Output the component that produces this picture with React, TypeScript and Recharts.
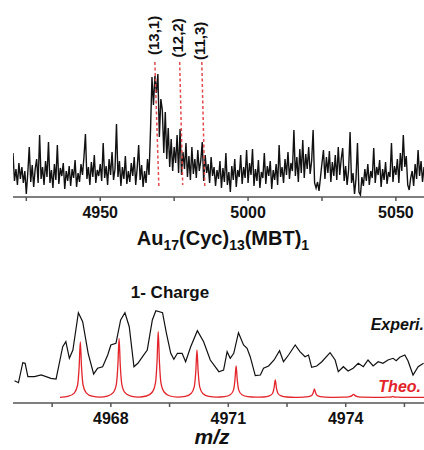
import { LineChart, Line, XAxis, YAxis, ReferenceLine, ReferenceDot } from 'recharts';

// full-range spectrum, intensity sampled every 0.5 m/z from 4920
const topStart = 4920;
const topStep = 0.5;
const topIntensity = [
    20, 44, 16, 28, 12, 34, 18, 30, 14, 26, 3, 24, 50, 15, 32, 10, 28, 38, 14, 62,
    18, 30, 12, 36, 20, 55, 14, 27, 9, 33, 17, 52, 13, 29, 21, 34, 8, 26, 16, 31,
    11, 28, 19, 37, 10, 24, 15, 33, 22, 40, 63, 18, 30, 12, 35, 20, 42, 14, 27, 21,
    33, 16, 54, 19, 31, 12, 38, 22, 45, 17, 28, 73, 20, 36, 11, 30, 18, 41, 13, 26,
    15, 34, 21, 40, 12, 29, 52, 17, 32, 10, 26, 14, 38, 22, 66, 120, 92, 121, 104, 123,
    60, 98, 87, 44, 85, 38, 69, 30, 58, 26, 50, 34, 62, 24, 68, 22, 45, 28, 54, 20,
    41, 17, 50, 23, 38, 19, 47, 26, 36, 55, 16, 42, 24, 33, 14, 40, 21, 30, 11, 27,
    18, 36, 9, 29, 15, 44, 12, 25, 5, 31, 17, 38, 10, 27, 20, 42, 13, 30, 19, 47,
    14, 34, 22, 48, 11, 28, 16, 37, 9, 25, 19, 44, 13, 31, 21, 36, 8, 27, 17, 33,
    12, 52, 20, 30, 14, 38, 22, 45, 18, 34, 26, 67, 21, 40, 15, 48, 24, 57, 19, 43,
    28, 50, 23, 36, 67, 14, 9, 15, 6, 20, 34, 47, 18, 40, 24, 46, 15, 35, 21, 42,
    17, 50, 22, 38, 49, 16, 31, 12, 27, 65, 14, 24, 3, 18, 54, 5, 2, 20, 11, 28,
    16, 33, 12, 26, 19, 49, 14, 30, 22, 37, 10, 28, 17, 35, 13, 25, 20, 54, 15, 31,
    22, 38, 14, 44, 26, 62, 30, 41, 12, 7, 19, 26, 11, 33, 18, 47, 21, 36, 15, 30, 24,
];

const assignMz = [4968.47, 4976.87, 4984.35];
const assignMzLow = [4969.83, 4977.89, 4985.37];
const assignLabels = ['(13,1)', '(12,2)', '(11,3)'];
const labelMz = [4967.85, 4976.3, 4983.74];

const topTicks = [4925, 4950, 4975, 5000, 5025, 5050];
const bottomTicks = [4966.5, 4968, 4969.5, 4971, 4972.5, 4974, 4975.5];

// zoom on the 1- isotope pattern: [m/z, intensity]
const experimental: [number, number][] = [
    [4965.54, 22.3], [4965.64, 20.3], [4965.75, 40.3], [4965.81, 39.7], [4965.88, 26.3],
    [4966.05, 26.3], [4966.22, 28], [4966.47, 24.7], [4966.6, 24], [4966.77, 56.3],
    [4966.85, 61.3], [4966.94, 44.7], [4967.03, 53], [4967.17, 90.3], [4967.28, 81.3],
    [4967.42, 49.7], [4967.56, 29], [4967.66, 34.7], [4967.79, 36.3], [4967.92, 48],
    [4968.0, 58], [4968.13, 59.7], [4968.25, 83], [4968.36, 90.3], [4968.47, 76.3],
    [4968.59, 36.3], [4968.69, 39.7], [4968.81, 46.3], [4968.93, 53], [4969.06, 83],
    [4969.15, 92.3], [4969.32, 90.3], [4969.42, 69.7], [4969.53, 49.7], [4969.61, 43.7],
    [4969.7, 49.7], [4969.82, 49.7], [4969.91, 41.3], [4970.04, 56.3], [4970.21, 72.3],
    [4970.37, 61.3], [4970.54, 43], [4970.76, 31.3], [4970.88, 33], [4970.97, 51.3],
    [4971.05, 44.7], [4971.14, 49.7], [4971.26, 70.3], [4971.39, 58], [4971.48, 54.7],
    [4971.56, 46.3], [4971.69, 27.3], [4971.82, 28], [4971.9, 34.7], [4972.03, 37],
    [4972.17, 43], [4972.31, 52.3], [4972.41, 41.3], [4972.54, 48], [4972.71, 58],
    [4972.83, 51.3], [4972.96, 46.3], [4973.05, 48], [4973.13, 35.7], [4973.26, 37],
    [4973.39, 41.3], [4973.6, 50.3], [4973.73, 43], [4973.81, 31.3], [4973.94, 36.3],
    [4974.06, 32], [4974.19, 34.7], [4974.32, 39.7], [4974.45, 36.3], [4974.57, 43],
    [4974.7, 37], [4974.83, 41.3], [4974.95, 39.7], [4975.08, 43], [4975.21, 44.7],
    [4975.29, 42.3], [4975.38, 45.7], [4975.51, 48], [4975.59, 42.3], [4975.72, 28],
    [4975.85, 36.3], [4975.99, 39.7],
];

const theoretical: [number, number][] = [
    [4966.7, 5.7],
    [4966.92, 6.8], [4967.07, 10.2], [4967.15, 18], [4967.19, 36.4], [4967.22, 61.3],
    [4967.25, 36.4], [4967.29, 18], [4967.37, 10.2], [4967.52, 6.8], [4967.72, 5.9],
    [4967.91, 6.9], [4968.06, 10.4], [4968.14, 18.7], [4968.18, 38.2], [4968.21, 64.7],
    [4968.24, 38.2], [4968.28, 18.7], [4968.36, 10.4], [4968.51, 6.9], [4968.71, 5.9],
    [4968.91, 7], [4969.06, 11], [4969.14, 20.1], [4969.18, 41.8], [4969.21, 71.3],
    [4969.24, 41.8], [4969.28, 20.1], [4969.36, 11], [4969.51, 7], [4969.7, 5.9],
    [4969.9, 6.6], [4970.05, 9.5], [4970.13, 16.1], [4970.17, 31.7], [4970.2, 53],
    [4970.23, 31.7], [4970.27, 16.1], [4970.35, 9.5], [4970.5, 6.6], [4970.7, 5.8],
    [4970.9, 6.3], [4971.05, 8.2], [4971.13, 12.6], [4971.17, 22.9], [4971.2, 37],
    [4971.23, 22.9], [4971.27, 12.6], [4971.35, 8.2], [4971.5, 6.3], [4971.7, 5.8],
    [4971.9, 6], [4972.05, 7.1], [4972.13, 9.5], [4972.17, 15.2], [4972.2, 23],
    [4972.23, 15.2], [4972.27, 9.5], [4972.35, 7.1], [4972.5, 6], [4972.7, 5.7],
    [4972.9, 5.9], [4973.05, 6.4], [4973.13, 7.5], [4973.17, 10.3], [4973.2, 14],
    [4973.23, 10.3], [4973.27, 7.5], [4973.35, 6.4], [4973.5, 5.9], [4973.7, 5.7],
    [4973.95, 5.8], [4974.1, 6.4], [4974.16, 7.4], [4974.2, 8.7], [4974.24, 7.4],
    [4974.3, 6.4], [4974.45, 5.8], [4974.7, 5.7],
    [4974.95, 5.7], [4975.1, 5.9], [4975.16, 6], [4975.2, 6.5], [4975.24, 6],
    [4975.3, 5.9], [4975.45, 5.7], [4976.0, 5.7],
];

const FONT = '"Liberation Sans", Arial, sans-serif';
const RED = '#e3242b';

const topData = topIntensity.map((v, i) => ({ mz: topStart + i * topStep, v }));
const expData = experimental.map(([mz, v]) => ({ mz, v }));
const theoData = theoretical.map(([mz, v]) => ({ mz, v }));

const tickStyle = { fill: '#111', fontSize: 16, fontWeight: 700, fontFamily: FONT };

export default function App() {
    return (
        <div style={{ position: 'absolute', left: 0, top: 0, width: 424, height: 450, background: '#fff', fontFamily: FONT, overflow: 'hidden' }}>
            <div style={{ position: 'absolute', left: 0, top: 0 }}>
                <LineChart width={424} height={230} data={topData} margin={{ top: 57, right: 0, bottom: 0, left: 13 }}>
                    <XAxis
                        dataKey="mz"
                        type="number"
                        domain={[4920.5, 5059.5]}
                        allowDataOverflow
                        ticks={topTicks}
                        interval={0}
                        tickFormatter={(v) => (v % 50 === 0 ? String(v) : '')}
                        height={33}
                        tickSize={4}
                        tickMargin={6}
                        stroke="#555"
                        strokeWidth={1.5}
                        tick={tickStyle}
                    />
                    <YAxis hide type="number" domain={[0, 140]} allowDataOverflow />
                    <Line type="linear" dataKey="v" stroke="#111" strokeWidth={1.4} dot={false} isAnimationActive={false} />
                    {assignMz.map((mz, i) => (
                        <ReferenceLine
                            key={assignLabels[i]}
                            segment={[{ x: mz, y: 135 }, { x: assignMzLow[i], y: i === 1 ? 12 : 10 }]}
                            stroke="#e5484d"
                            strokeWidth={1.5}
                            strokeDasharray="3 2.5"
                            ifOverflow="visible"
                        />
                    ))}
                    {labelMz.map((mz, i) => (
                        <ReferenceDot
                            key={'l' + i}
                            x={mz}
                            y={142 - i * 2.5}
                            r={1}
                            ifOverflow="visible"
                            shape={(p: any) => (
                                <text
                                    x={p.cx}
                                    y={p.cy}
                                    transform={`rotate(-90 ${p.cx} ${p.cy})`}
                                    textAnchor="start"
                                    dominantBaseline="central"
                                    fontSize={15}
                                    fontWeight={700}
                                    fontFamily={FONT}
                                    fill="#111"
                                >
                                    {assignLabels[i]}
                                </text>
                            )}
                        />
                    ))}
                </LineChart>
            </div>
            <div style={{ position: 'absolute', left: 11, top: 228, width: 424, textAlign: 'center', fontSize: 20, fontWeight: 700, lineHeight: '20px', color: '#111' }}>
                Au<sub style={{ fontSize: 14, verticalAlign: -5, lineHeight: 0 }}>17</sub>(Cyc)<sub style={{ fontSize: 14, verticalAlign: -5, lineHeight: 0 }}>13</sub>(MBT)<sub style={{ fontSize: 14, verticalAlign: -5, lineHeight: 0 }}>1</sub>
            </div>

            <div style={{ position: 'absolute', left: 0, top: 260 }}>
                <LineChart width={424} height={190} margin={{ top: 43, right: 0, bottom: 0, left: 13 }}>
                    <XAxis
                        dataKey="mz"
                        type="number"
                        domain={[4965.5, 4976]}
                        allowDataOverflow
                        ticks={bottomTicks}
                        interval={0}
                        tickFormatter={(v) => (Number.isInteger(v) ? String(v) : '')}
                        height={47}
                        tickSize={4}
                        tickMargin={6}
                        stroke="#555"
                        strokeWidth={1.5}
                        tick={tickStyle}
                    />
                    <YAxis hide type="number" domain={[0, 100]} allowDataOverflow />
                    <Line data={theoData} type="monotone" dataKey="v" stroke={RED} strokeWidth={1.3} dot={false} isAnimationActive={false} />
                    <Line data={expData} type="linear" dataKey="v" stroke="#111" strokeWidth={1.2} dot={false} isAnimationActive={false} />
                </LineChart>
            </div>
            <div style={{ position: 'absolute', left: 90, top: 284, width: 160, textAlign: 'center', fontSize: 17, fontWeight: 700, lineHeight: '17px', color: '#111' }}>
                1- Charge
            </div>
            <div style={{ position: 'absolute', right: 0, top: 317, fontSize: 16, fontWeight: 700, fontStyle: 'italic', lineHeight: '16px', color: '#111' }}>
                Experi.
            </div>
            <div style={{ position: 'absolute', right: 3, top: 379, fontSize: 16, fontWeight: 700, fontStyle: 'italic', lineHeight: '16px', color: RED }}>
                Theo.
            </div>
            <div style={{ position: 'absolute', left: 112, top: 426, width: 200, textAlign: 'center', fontSize: 21, fontWeight: 700, fontStyle: 'italic', lineHeight: '22px', color: '#111' }}>
                m/z
            </div>
        </div>
    );
}
